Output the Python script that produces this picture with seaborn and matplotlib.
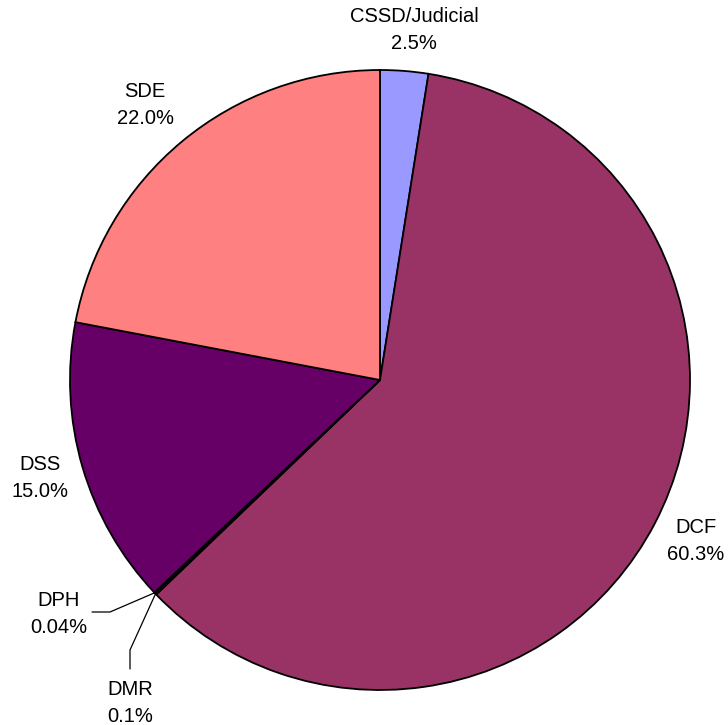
import numpy as np
import matplotlib
matplotlib.use("Agg")
import matplotlib.pyplot as plt
import seaborn as sns

# Budget share by agency
agencies = ["CSSD/Judicial", "DCF", "DMR", "DPH", "DSS", "SDE"]
shares = [2.5, 60.3, 0.1, 0.04, 15.0, 22.0]
share_labels = ["2.5%", "60.3%", "0.1%", "0.04%", "15.0%", "22.0%"]
slice_colors = ["#9999FF", "#993366", "#FFFFCC", "#CCFFFF", "#660066", "#FF8080"]

sns.set_theme(style="white")
plt.rcParams["font.family"] = ["Liberation Sans", "DejaVu Sans"]

W, H = 728, 725
fig = plt.figure(figsize=(W / 100, H / 100), dpi=100)
ax = fig.add_axes([0, 0, 1, 1])

def px(x, y):
    """Convert top-left pixel position to axes data coordinates."""
    return x, H - y

cx, cy = px(380, 380)
radius = 310
palette = sns.color_palette(slice_colors)

ax.pie(shares, colors=palette, startangle=90, counterclock=False,
       center=(cx, cy), radius=radius, frame=True,
       wedgeprops=dict(edgecolor="black", linewidth=1.3))
ax.set_xlim(0, W)
ax.set_ylim(0, H)
ax.set_aspect("equal")
ax.axis("off")

# Label anchors: centre x and baseline y of the name line (top-left pixels)
label_pos = {
    "CSSD/Judicial": (414, 22),
    "DCF": (696, 533),
    "DMR": (130, 695),
    "DPH": (59, 606),
    "DSS": (40, 470),
    "SDE": (145, 97),
}
line_gap = 27
for name, txt in zip(agencies, share_labels):
    lx, ly = label_pos[name]
    x, y = px(lx, ly)
    ax.text(x, y, name, ha="center", va="baseline", fontsize=14.5, color="black")
    x, y = px(lx, ly + line_gap)
    ax.text(x, y, txt, ha="center", va="baseline", fontsize=14.5, color="black")

# Leader lines for the two tiny slices
total = sum(shares)
cum = np.cumsum([0] + shares)
def edge_point(i):
    frac = (cum[i] + shares[i] / 2) / total
    ang = np.deg2rad(90 - 360 * frac)
    return cx + radius * np.cos(ang), cy + radius * np.sin(ang)

dmr_edge = edge_point(agencies.index("DMR"))
dph_edge = edge_point(agencies.index("DPH"))

x1, y1 = px(92, 612)
x2, y2 = px(110, 612)
ax.plot([x1, x2, dph_edge[0]], [y1, y2, dph_edge[1]], color="black", lw=0.9)

x3, y3 = px(130, 669)
x4, y4 = px(130, 650)
ax.plot([x3, x4, dmr_edge[0]], [y3, y4, dmr_edge[1]], color="black", lw=0.9)

fig.savefig("out.png", dpi=100, facecolor="white")
